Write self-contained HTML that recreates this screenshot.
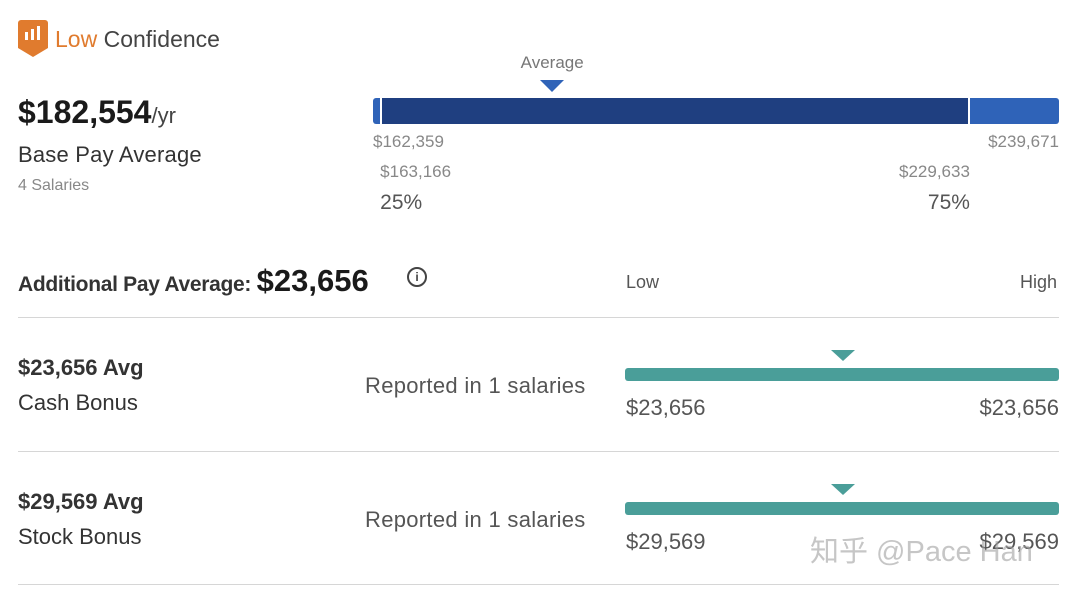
<!DOCTYPE html>
<html><head><meta charset="utf-8"><style>
body{margin:0;width:1080px;height:590px;background:#fff;font-family:"Liberation Sans","Noto Sans CJK SC",sans-serif;position:relative;overflow:hidden;color:#222}
.a{position:absolute;white-space:nowrap}
.g{color:#777}
.hr{position:absolute;left:18px;width:1041px;height:1px;background:#d6d6d6}
</style></head><body>
<div class="a" style="left:18px;top:20px;width:30px;height:28px;background:#e07b2e;border-radius:3px 3px 0 0"></div>
<div class="a" style="left:18px;top:48px;width:0;height:0;border-left:15px solid transparent;border-right:15px solid transparent;border-top:9px solid #e07b2e"></div>
<div class="a" style="left:25px;top:32px;width:3px;height:8px;background:#fff"></div>
<div class="a" style="left:31px;top:29px;width:3px;height:11px;background:#fff"></div>
<div class="a" style="left:37px;top:26px;width:3px;height:14px;background:#fff"></div>
<div class="a" style="left:55px;top:26px;font-size:23px;color:#444"><span style="color:#e07b2e">Low</span> Confidence</div>
<div class="a" style="left:18px;top:94px;font-size:32px;font-weight:bold;color:#1a1a1a">$182,554<span style="font-weight:normal;font-size:22px;color:#444">/yr</span></div>
<div class="a" style="left:18px;top:142px;font-size:22px;color:#333;letter-spacing:0.2px">Base Pay Average</div>
<div class="a g" style="left:18px;top:177px;font-size:16px;color:#888">4 Salaries</div>

<div id="chart"></div>

<div class="a" style="left:18px;top:263px;font-size:21px;color:#333;font-weight:bold;letter-spacing:-0.3px">Additional Pay Average: <span style="font-size:31px;color:#1a1a1a;letter-spacing:0">$23,656</span></div>
<div class="a" style="left:407px;top:267px;width:16px;height:16px;border:2px solid #444;border-radius:50%;font-size:12px;line-height:16px;text-align:center;font-weight:bold;color:#444">i</div>
<div class="a g" style="left:626px;top:272px;font-size:18px;color:#555">Low</div>
<div class="a g" style="left:1020px;top:272px;font-size:18px;color:#555">High</div>
<div class="hr" style="top:317px"></div>

<div class="a" style="left:18px;top:355px;font-size:22px;font-weight:bold;color:#333">$23,656 Avg</div>
<div class="a" style="left:18px;top:390px;font-size:22px;color:#333">Cash Bonus</div>
<div class="a" style="left:365px;top:373px;font-size:22px;color:#555;letter-spacing:0.3px">Reported in 1 salaries</div>
<div class="a" style="left:831px;top:350px;border-left:12px solid transparent;border-right:12px solid transparent;border-top:11px solid #4a9e99"></div>
<div class="a" style="left:625px;top:368px;width:434px;height:13px;background:#4a9e99;border-radius:3px"></div>
<div class="a" style="left:626px;top:395px;font-size:22px;color:#555">$23,656</div>
<div class="a" style="left:959px;top:395px;width:100px;text-align:right;font-size:22px;color:#555">$23,656</div>
<div class="hr" style="top:451px"></div>

<div class="a" style="left:18px;top:489px;font-size:22px;font-weight:bold;color:#333">$29,569 Avg</div>
<div class="a" style="left:18px;top:524px;font-size:22px;color:#333">Stock Bonus</div>
<div class="a" style="left:365px;top:507px;font-size:22px;color:#555;letter-spacing:0.3px">Reported in 1 salaries</div>
<div class="a" style="left:831px;top:484px;border-left:12px solid transparent;border-right:12px solid transparent;border-top:11px solid #4a9e99"></div>
<div class="a" style="left:625px;top:502px;width:434px;height:13px;background:#4a9e99;border-radius:3px"></div>
<div class="a" style="left:626px;top:529px;font-size:22px;color:#555">$29,569</div>
<div class="a" style="left:959px;top:529px;width:100px;text-align:right;font-size:22px;color:#555">$29,569</div>
<div class="hr" style="top:584px"></div>
<div class="a" style="left:810px;top:528px;font-size:29px;color:rgba(160,160,160,0.6)">知乎 @Pace Han</div>

<script>
const rangeMin = 162359, rangeMax = 239671;
const p25 = 163166, p75 = 229633;
const avgValue = 182554;
const x0 = 373, x1 = 1059;
function xs(v){return x0 + (v - rangeMin)/(rangeMax - rangeMin)*(x1 - x0);}
const c = document.getElementById('chart');
function mk(name, style, text){
  const d = document.createElement('div');
  d.className = 'a';
  
  
  d.style.cssText = style;
  if(text) d.textContent = text;
  c.appendChild(d);
  return d;
}
mk('range-bar', `left:${x0}px;top:98px;width:${x1-x0}px;height:26px;background:#2f63b8;border-radius:3px`);
mk('iqr-bar', `left:${xs(p25)}px;top:98px;width:${xs(p75)-xs(p25)}px;height:26px;background:#1f3f80;border-left:2px solid #fff;border-right:2px solid #fff;box-sizing:border-box`);
mk('average-label', `left:${xs(avgValue)-35}px;top:53px;font-size:17px;color:#777;width:70px;text-align:center`, 'Average');
mk('average-marker', `left:${xs(avgValue)-12}px;top:80px;border-left:12px solid transparent;border-right:12px solid transparent;border-top:12px solid #2f63b8`);
mk('min-label', `left:${x0}px;top:132px;font-size:17px;color:#888`, '$' + rangeMin.toLocaleString('en-US'));
mk('max-label', `left:${x1-81}px;top:132px;font-size:17px;color:#888;width:81px;text-align:right`, '$' + rangeMax.toLocaleString('en-US'));
mk('p25-value', `left:${xs(p25)}px;top:162px;font-size:17px;color:#888`, '$' + p25.toLocaleString('en-US'));
mk('p75-value', `left:${xs(p75)-81}px;top:162px;font-size:17px;color:#888;width:81px;text-align:right`, '$' + p75.toLocaleString('en-US'));
mk('p25-label', `left:${xs(p25)}px;top:191px;font-size:21px;color:#555`, '25%');
mk('p75-label', `left:${xs(p75)-50}px;top:191px;font-size:21px;color:#555;width:50px;text-align:right`, '75%');
</script>
</body></html>
